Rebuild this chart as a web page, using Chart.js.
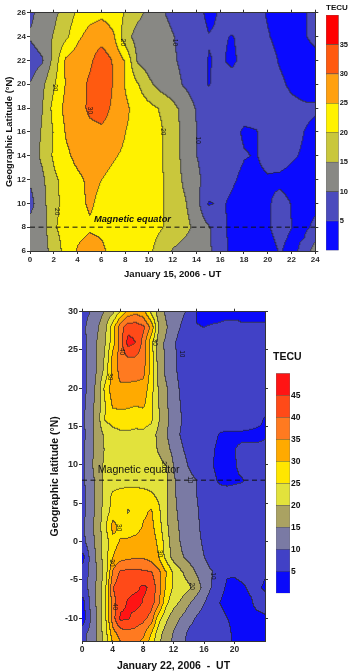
<!DOCTYPE html>
<html>
<head>
<meta charset="utf-8">
<script src="https://cdn.jsdelivr.net/npm/chart.js@4.4.0/dist/chart.umd.min.js"></script>
<style>
  body { margin: 0; background: #fff; width: 349px; height: 672px; position: relative; overflow: hidden; }
  canvas { position: absolute; }
</style>
</head>
<body>
<canvas id="map15" width="349" height="290" style="left:0px;top:0px"></canvas>
<canvas id="bar15" width="23" height="256" style="left:326px;top:0px"></canvas>
<canvas id="map22" width="349" height="372" style="left:0px;top:300px"></canvas>
<canvas id="bar22" width="36" height="300" style="left:273px;top:340px"></canvas>
<script>
// ---- data: TEC maps (TECU), rows = latitude, columns = UT hour ----
const hours = [0,1,2,3,4,5,6,7,8,9,10,11,12,13,14,15,16,17,18,19,20,21,22,23,24];
const equatorLat = 8;

// January 15, 2006
const lats15 = [26,24,22,20,18,16,14,12,10,8,6];
const tec15 = [
  [9,12,14,17,21,23,24,23,19.5,16.5,13.5,10.5,9,8,6.5,4,5.5,7,7.5,6.5,4.5,3,3,4.5,6.5],
  [10.5,12.5,15.5,19,24,27,28,25.5,17,13,12.5,11.5,10.2,8.5,7,5.2,5.5,4.8,6.5,7,5.3,3.5,3,4.5,6.5],
  [7.5,9.5,17,26,28,29,33,29.5,24.5,14.5,12.5,11.5,10.5,9,7.5,4.8,5.5,4.2,6.5,7.5,7,4.5,3,2.5,3],
  [10.2,14,19.6,25.5,27.5,31,34,29.5,24.5,20.5,16,13,11.5,9.5,7.5,4.8,6.5,7,7.5,7.5,7,6,4,3,3.5],
  [10.5,15,22,26.5,28,31,32,29,26,23,21.5,19.5,16.5,13,9.5,8,7.5,7,6.5,6.5,7,7.5,6.5,5.8,5.5],
  [12,15.5,20.5,25.5,27.5,28.5,29,28,25,23.5,22,20.5,17,13.5,10,8,7,6,4.5,4.8,7,7.5,6.5,5,4],
  [12.5,16,21,24,26.5,27,27,25.5,24,23,22,20.5,17,13.5,10,8,7,6.5,5.2,4.8,6.5,7,5.5,4.5,4],
  [10.5,14,19,22,24,26,25,23.5,23,22.5,22,20.5,17.5,14,11,8,7,5.5,4,4,4.5,4,3.5,3,4],
  [8.5,13.5,18.5,22,24,25.5,24,23,22.5,22.5,22,20.5,18,15.5,11.5,4.6,5.6,4.2,3.5,3.5,4.5,6.5,4.8,3.5,4],
  [12,12.5,19.5,22,23.5,24.5,24,22.5,22,22,21.5,20.3,18.5,16.5,13.5,10.5,6,4,3.5,4,4.8,6,5,4,6],
  [12,13,17,22,25.5,27,26,23,22.5,21.5,20.8,18,14.5,13,12,11,6.5,4,3.5,3.5,4,5.2,4,6,13]
];
const levels15 = [0,5,10,15,20,25,30,35,40];
const colors15 = ['#0a0aff','#4b4bbd','#888884','#c9c73c','#fff200','#ffa010','#ff5a10','#ff0000'];

// January 22, 2006
const lats22 = [30,28,26,24,22,20,18,16,14,12,10,8,6,4,2,0,-2,-4,-6,-8,-10,-12,-13];
const tec22 = [
  [8,10,12.5,15.5,19,26,32,34,32,24,17.5,14,12.5,11,9,4.5,4,4,4,4,4,4,4,4,4],
  [8.5,12,14.6,19,28,38,43,43,41,34,20,15.5,12,9.5,7,5.2,5,5.3,5.5,6,6,5.5,5.5,5.5,5.5],
  [8.5,11.5,15.5,20,28,38,47,45,38,27,17,14,10.5,8,7,6,6,6,6.5,6.5,6.5,6.5,6.5,6.5,6.5],
  [8,11.5,15.5,21,32,37,39.5,39.5,37.5,28,17.5,14,11,8,7,6.5,6.5,6.5,6.5,6.5,6.5,6.5,6.5,6.5,6.5],
  [8,11.5,16,22,32,36.5,37,37,36,28,18,14,11,8.5,7,6.5,6.5,6.5,6.5,6.5,6.5,6.5,6.5,6.5,6.5],
  [8,12,17,27,33,34,33.5,33,33,27,19.5,15.5,12,9,7,6.5,6.5,6.5,6.5,6.5,6.5,6.5,6.5,6.5,6.5],
  [8.5,12.5,17.5,25,31,31.5,31,30.5,31,26,20,15.5,12.5,9.5,7,6.5,6.5,6.5,6.5,6.5,6.5,6.5,6.5,6.5,6],
  [9,13,18,25.5,27,27.5,27.5,26.5,27,26,20.5,16,13,10,7.5,6.5,6.5,6.5,6.5,6.5,6.5,6.5,6,5.5,4.8],
  [8.5,12.5,17.5,21,23,24,24,24,24,22.5,18.5,15.5,11.5,9.5,8,7,6.5,6,4.8,4.5,4.5,4.5,4.5,4.5,4.8],
  [9,13,17.5,20.5,22.5,23,23,23,23,22,19.5,16.5,13.5,10.5,8.5,7,6.5,5.5,4,4,5,5.5,5.5,5.5,5.5],
  [9,13.5,18,21,22,22.5,22.5,22.5,22.5,22,21.5,20,14.5,12,9.5,7.5,6.5,5.3,3.5,3.5,4.8,6,7,7,7],
  [9,12.5,17,21.5,22.5,23,23,23,23,22.5,22,21,15.5,13,11.5,10,7.5,6,4.5,4.2,4.5,4.8,6,6.5,6.5],
  [8.5,12,17,22,26,27,27.5,27.5,27,26,24,21,15.5,13.5,12,10,8,7,6.5,6.5,6.5,6.5,6.5,6.5,6.5],
  [8.5,12.5,17,22.5,27,27.5,24.5,27.5,29,30.5,26,20.5,16,13.5,12,10.5,8,7,6.5,6.5,6.5,6.5,6.5,6.5,6.5],
  [9,13,17.5,24,32,28,27,27.5,30.5,31.5,27,21,16.5,14,12.5,11,8,7,6.5,6.5,6.5,6.5,6.5,6.5,6.5],
  [8.5,12.5,17,22.5,28,30.5,31,32,33,32.5,29,22,17,14.5,13,11.5,9,7,6.5,6.5,6.5,6.5,6.5,6.5,6.5],
  [3,11,16.5,23,30,33,34,34.5,34.5,33,30,23,18,15.5,13.5,12,10,7.5,6.5,6.5,6.5,6.5,6.5,6.5,6.5],
  [7,11,15.5,22,36,41,41.5,41.5,41,40.5,36.5,30,24,20.5,17.5,14.5,12,10.3,7,5.3,5.5,6,6.5,6,5.3],
  [7,11.5,16.5,24,40,43,43.5,44,46,44,37,29,24,22.5,21,17.5,13,9.5,6,4.5,4,4.5,5.5,5.5,4.5],
  [3,10.5,16.5,24,38,43.5,45.5,47,44.5,42.5,36,26,21.5,19,15.5,12.5,10,7,5,4,4,4,4.5,6,6.5],
  [2,9.5,16,24,38,46,45.5,43,41.5,38,27,21,17,14.5,11.5,9.5,8,7,6,5,4.5,4,4,4,4.5],
  [8,11.5,16,23,33,37,38,38,36,30,22,17.5,14.5,11.5,9,8,7.5,7,6.5,5.5,4.5,4,4,4,4],
  [8,11.5,15.5,22,31,35,36,36,34,28,21,17,14,11,9,8,7.5,7,6.5,5.5,4.5,4,4,4,4]
];
const levels22 = [0,5,10,15,20,25,30,35,40,45,50];
const colors22 = ['#0a0afa','#4141c6','#7a7aa4','#aaa262','#e2e23c','#ffe600','#ffaa00','#ff7a20','#ff4a18','#ff1414'];

// contour labels [hour, latitude, text]
const notes15 = [[7.8,23.5,'20'],[12.2,23.5,'10'],[2.1,19.7,'20'],[5.05,17.8,'30'],[11.2,16,'20'],[14.1,15.3,'10'],[2.27,9.3,'20']];
const notes22 = [[5.2,24.8,'40'],[9.6,26,'30'],[13.1,24.5,'10'],[3.7,21.5,'30'],[10.7,10,'20'],[14.2,8.05,'10'],
                 [4.8,1.8,'30'],[10.2,-1.6,'30'],[3.9,-2.8,'30'],[17.2,-4.5,'10'],[14.4,-5.85,'20'],[4.3,-8.5,'40']];

const FONT = "'Liberation Sans', Arial, sans-serif";
Chart.defaults.font.family = FONT;
Chart.defaults.animation = false;

function rgb(hex) {
  const n = parseInt(hex.slice(1), 16);
  return [(n >> 16) & 255, (n >> 8) & 255, n & 255];
}

function sample(lats, rows, hr, lat) {
  let i = 0;
  while (i < hours.length - 2 && hr > hours[i + 1]) i++;
  let j = 0;
  while (j < lats.length - 2 && lat < lats[j + 1]) j++;
  const tx = Math.min(1, Math.max(0, (hr - hours[i]) / (hours[i + 1] - hours[i])));
  const ty = Math.min(1, Math.max(0, (lats[j] - lat) / (lats[j] - lats[j + 1])));
  const a = rows[j][i], b = rows[j][i + 1], c = rows[j + 1][i], d = rows[j + 1][i + 1];
  return (a * (1 - tx) + b * tx) * (1 - ty) + (c * (1 - tx) + d * tx) * ty;
}

// filled contours: every pixel of the plot area gets the band colour of the gridded value
function fieldPlugin(lats, rows, levels, colors) {
  const pal = colors.map(rgb);
  return {
    id: 'field',
    beforeDatasetsDraw(chart) {
      const { ctx, chartArea: a, scales } = chart;
      const w = Math.round(a.right - a.left), h = Math.round(a.bottom - a.top);
      const off = document.createElement('canvas');
      off.width = w; off.height = h;
      const oc = off.getContext('2d');
      const img = oc.createImageData(w, h);
      const lev = new Int16Array(w * h);
      const xv = [];
      for (let i = 0; i < w; i++) xv.push(scales.x.getValueForPixel(a.left + (i + 0.5) * (a.right - a.left) / w));
      for (let j = 0; j < h; j++) {
        const lat = scales.y.getValueForPixel(a.top + (j + 0.5) * (a.bottom - a.top) / h);
        for (let i = 0; i < w; i++) {
          const v = sample(lats, rows, xv[i], lat);
          let k = 0;
          while (k < levels.length - 2 && v >= levels[k + 1]) k++;
          lev[j * w + i] = k;
        }
      }
      for (let p = 0; p < w * h; p++) {
        const c = pal[lev[p]];
        const edge = (p % w > 0 && lev[p] !== lev[p - 1]) || (p >= w && lev[p] !== lev[p - w]);
        const q = p * 4;
        for (let m = 0; m < 3; m++) img.data[q + m] = edge ? c[m] * 0.3 + 30 : c[m];
        img.data[q + 3] = 255;
      }
      oc.putImageData(img, 0, 0);
      ctx.drawImage(off, a.left, a.top, a.right - a.left, a.bottom - a.top);
    }
  };
}

function notesPlugin(label, notes) {
  return {
    id: 'notes',
    afterDatasetsDraw(chart) {
      const { ctx, scales: { x, y } } = chart;
      ctx.save();
      ctx.fillStyle = '#111';
      ctx.textBaseline = 'middle';
      ctx.font = label.font;
      ctx.fillText(label.text, x.getPixelForValue(label.h), y.getPixelForValue(label.lat));
      ctx.font = '6.5px ' + FONT;
      ctx.textAlign = 'center';
      notes.forEach(([h, lat, t]) => {
        ctx.save();
        ctx.translate(x.getPixelForValue(h), y.getPixelForValue(lat));
        ctx.rotate(Math.PI / 2);
        ctx.fillText(t, 0, 0);
        ctx.restore();
      });
      ctx.restore();
    }
  };
}

function axis(pos, min, max, step, size, extra) {
  return Object.assign({
    type: 'linear', position: pos, min: min, max: max,
    ticks: { stepSize: step, includeBounds: false, autoSkip: false, maxRotation: 0, padding: 1, color: '#2a2a2a', font: { size: size, weight: 'bold' } },
    grid: { drawOnChartArea: false, tickLength: 3, color: '#333' },
    border: { color: '#333', width: 1 }
  }, extra);
}

function mirror(pos, min, max, step, fit) {
  return {
    type: 'linear', position: pos, min: min, max: max,
    ticks: { display: false, stepSize: step, includeBounds: false },
    grid: { drawOnChartArea: false, tickLength: 3, color: '#333' },
    border: { color: '#333', width: 1 },
    afterFit: fit
  };
}

function equatorSet() {
  return {
    data: [{ x: hours[0], y: equatorLat }, { x: hours[hours.length - 1], y: equatorLat }],
    showLine: true, borderColor: '#111', borderWidth: 1, borderDash: [5, 3.5], pointRadius: 0
  };
}

// ---- January 15 map ----
new Chart(document.getElementById('map15'), {
  type: 'scatter',
  data: { datasets: [equatorSet()] },
  options: {
    responsive: false, events: [],
    layout: { padding: 0 },
    plugins: { legend: { display: false }, tooltip: { enabled: false } },
    scales: {
      x: axis('bottom', 0, 24, 2, 8, {
        title: { display: true, text: 'January 15, 2006 - UT', color: '#111', font: { size: 9.5, weight: 'bold' }, padding: { top: 0, bottom: 10 } },
        afterFit: s => { s.height = 39; }
      }),
      x2: mirror('top', 0, 24, 2, s => { s.height = 12.7; }),
      y: axis('left', 6, 26, 2, 8, {
        title: { display: true, text: 'Geographic Latitude (°N)', color: '#111', font: { size: 9.4, weight: 'bold' }, padding: { top: 4, bottom: 0 } },
        afterFit: s => { s.width = 30; }
      }),
      y2: mirror('right', 6, 26, 2, s => { s.width = 33.7; })
    }
  },
  plugins: [fieldPlugin(lats15, tec15, levels15, colors15),
            notesPlugin({ text: 'Magnetic equator', h: 5.38, lat: 8.68, font: 'italic bold 9.3px ' + FONT }, notes15)]
});

// ---- January 22 map ----
new Chart(document.getElementById('map22'), {
  type: 'scatter',
  data: { datasets: [equatorSet()] },
  options: {
    responsive: false, events: [],
    layout: { padding: { left: 45 } },
    plugins: { legend: { display: false }, tooltip: { enabled: false } },
    scales: {
      x: axis('bottom', 0, 24, 4, 8.5, {
        ticks: { stepSize: 4, autoSkip: false, maxRotation: 0, padding: 1, color: '#2a2a2a', font: { size: 8.5, weight: 'bold' },
                 callback: v => (v === 24 ? null : v) },
        title: { display: true, text: 'January 22, 2006  -  UT', color: '#111', font: { size: 10.5, weight: 'bold' }, padding: { top: 0, bottom: 0 } },
        afterFit: s => { s.height = 31; }
      }),
      x2: mirror('top', 0, 24, 5, s => { s.height = 11.7; }),
      y: axis('left', -13, 30, 5, 9, {
        title: { display: true, text: 'Geographic latitude (°N)', color: '#111', font: { size: 10.5, weight: 'bold' }, padding: { top: 4, bottom: 0 } },
        afterFit: s => { s.width = 37; }
      }),
      y2: mirror('right', -13, 30, 5, s => { s.width = 84; })
    }
  },
  plugins: [fieldPlugin(lats22, tec22, levels22, colors22),
            notesPlugin({ text: 'Magnetic equator', h: 2.06, lat: 9.36, font: '10.6px ' + FONT }, notes22)]
});

// ---- colour bars ----
function colorBar(id, levels, colors, o) {
  const top = levels[levels.length - 1];
  const scales = {
    x: { display: false, stacked: true },
    y: {
      position: 'right', min: 0, max: top,
      ticks: { stepSize: 5, padding: 1, color: '#111', font: { size: o.tick, weight: 'bold' },
               callback: v => (v === 0 || v === top ? null : v) },
      grid: { display: false, drawTicks: false }, border: { display: false },
      afterFit: s => { s.width = o.right; }
    }
  };
  if (o.left) {
    scales.yl = { position: 'left', display: true, ticks: { display: false }, grid: { display: false, drawTicks: false },
                  border: { display: false }, afterFit: s => { s.width = o.left; } };
  }
  new Chart(document.getElementById(id), {
    type: 'bar',
    data: {
      labels: [''],
      datasets: colors.map((c, i) => ({
        data: [[levels[i], levels[i + 1]]], backgroundColor: c,
        borderColor: 'rgba(60,60,60,0.8)', borderWidth: 0.6, borderSkipped: false,
        barPercentage: 1, categoryPercentage: 1
      }))
    },
    options: {
      responsive: false, events: [],
      layout: { padding: { bottom: o.bottom } },
      plugins: {
        legend: { display: false }, tooltip: { enabled: false },
        title: { display: true, text: 'TECU', align: 'start', color: '#111',
                 font: { size: o.title, weight: 'bold' }, padding: { top: o.padTop, bottom: o.padBottom } }
      },
      scales: scales
    }
  });
}

colorBar('bar15', levels15, colors15, { tick: 7.5, title: 8, right: 10.3, bottom: 4, padTop: 3.2, padBottom: 2.2 });
colorBar('bar22', levels22, colors22, { tick: 8.5, title: 10.5, right: 19, left: 3, bottom: 46.7, padTop: 10.7, padBottom: 10 });
</script>
</body>
</html>
